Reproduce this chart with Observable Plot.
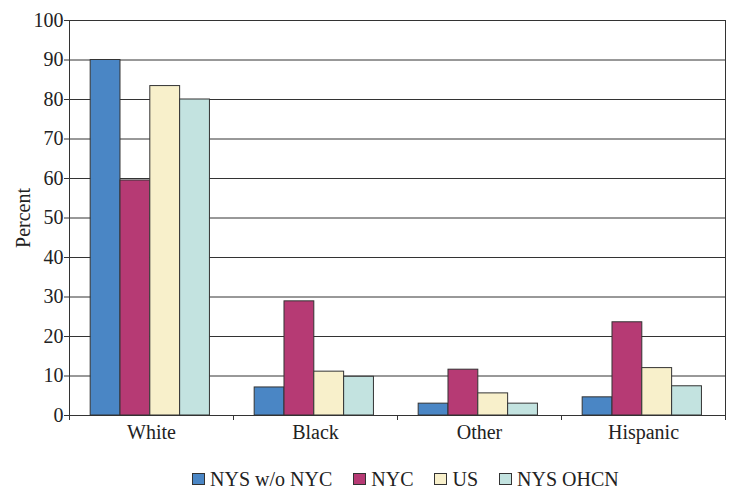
<!DOCTYPE html>
<html>
<head>
<meta charset="utf-8">
<script src="https://cdn.jsdelivr.net/npm/d3@7"></script>
<script src="https://cdn.jsdelivr.net/npm/@observablehq/plot@0.6"></script>
<style>
  html, body { margin: 0; padding: 0; background: #fff; }
  #chart { width: 731px; }
  .legend { display: flex; align-items: center; padding-left: 192px; padding-top: 26px; height: 16px;
            font-family: "Liberation Serif", "Times New Roman", Times, serif; font-size: 20px; line-height: 16px; color: #222; }
  .legend .item { display: flex; align-items: center; margin-right: 21px; }
  .legend .sw { width: 11px; height: 10px; border: 1px solid #333; margin-right: 5px; }
  svg text { font-family: "Liberation Serif", "Times New Roman", Times, serif; }
</style>
</head>
<body>
<div id="chart"></div>
<script>
const categories = ["White", "Black", "Other", "Hispanic"];
const series = ["NYS w/o NYC", "NYC", "US", "NYS OHCN"];
const nysWoNyc = [90, 7.1, 3.0, 4.6];
const nyc = [59.5, 28.9, 11.6, 23.6];
const us = [83.4, 11.1, 5.6, 12.0];
const nysOhcn = [80, 9.8, 3.0, 7.4];
const yTicks = [0, 10, 20, 30, 40, 50, 60, 70, 80, 90, 100];
const colors = ["#4a86c5", "#b63a74", "#f8f0cb", "#c3e3e0"];

const seriesValues = [nysWoNyc, nyc, us, nysOhcn];
const rows = [];
categories.forEach((c, i) => {
  series.forEach((s, j) => {
    rows.push({category: c, series: s, index: j, value: seriesValues[j][i]});
  });
});
const xDomain = [-0.71, series.length + 0.79];

const chart = Plot.plot({
  width: 731,
  height: 445,
  marginLeft: 67,
  marginRight: 5,
  marginTop: 20,
  marginBottom: 30,
  style: {fontFamily: "'Liberation Serif', 'Times New Roman', Times, serif", fontSize: "20px", color: "#222", background: "#fff"},
  fx: {domain: categories, padding: 0, label: null},
  x: {domain: xDomain},
  y: {domain: [0, 100]},
  color: {domain: series, range: colors},
  marks: [
    Plot.ruleY(yTicks, {stroke: "#333", strokeWidth: 1}),
    Plot.rect(rows, {fx: "category", x1: "index", x2: d => d.index + 1, y1: 0, y2: "value",
                     fill: "series", stroke: "#333", strokeWidth: 1}),
    Plot.axisY({ticks: yTicks, tickSize: 5, tickPadding: 1, stroke: "#333",
                label: "Percent", labelAnchor: "center", labelOffset: 54, labelArrow: false}),
    Plot.axisX({ticks: xDomain, tickSize: 5, tickFormat: () => "", label: null, stroke: "#333"}),
    Plot.axisFx({anchor: "bottom", tickSize: 0, tickPadding: 9, label: null}),
    Plot.ruleX([{category: categories[0], x: xDomain[0]}], {fx: "category", x: "x", stroke: "#333"}),
    Plot.ruleX([{category: categories[categories.length - 1], x: xDomain[1]}], {fx: "category", x: "x", stroke: "#333"})
  ]
});
document.getElementById("chart").appendChild(chart);

const legend = document.createElement("div");
legend.className = "legend";
series.forEach((s, j) => {
  const item = document.createElement("div");
  item.className = "item";
  const sw = document.createElement("span");
  sw.className = "sw";
  sw.style.background = colors[j];
  const t = document.createElement("span");
  t.textContent = s;
  item.appendChild(sw);
  item.appendChild(t);
  legend.appendChild(item);
});
document.getElementById("chart").appendChild(legend);
</script>
</body>
</html>
